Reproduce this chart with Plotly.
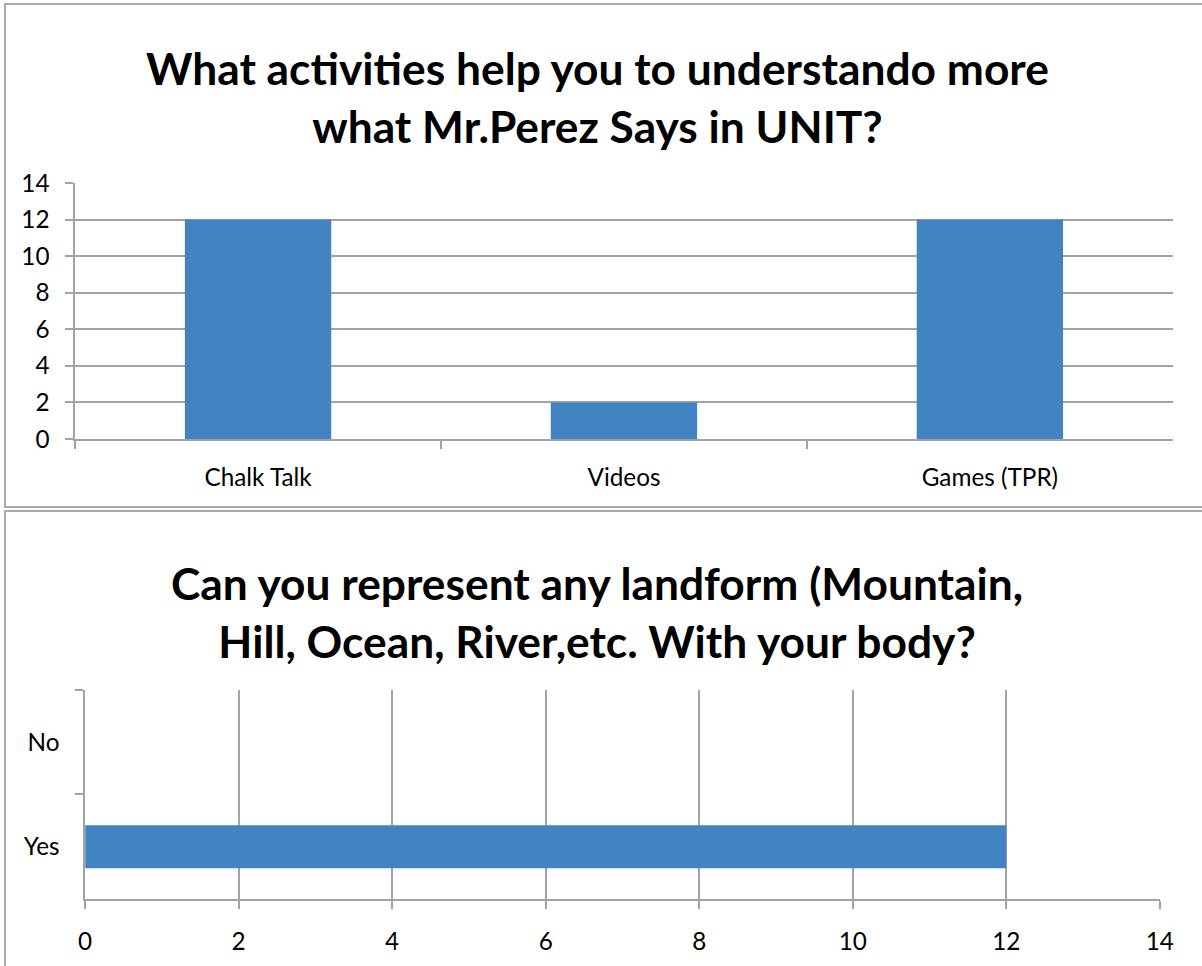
import plotly.graph_objects as go

# ---- data ----
act_categories = ["Chalk Talk", "Videos", "Games (TPR)"]
act_values = [12, 2, 12]
act_title = "What activities help you to understando more<br>what Mr.Perez Says in UNIT?"

land_categories = ["Yes", "No"]
land_values = [12, 0]
land_title = "Can you represent any landform (Mountain,<br>Hill, Ocean, River,etc. With your body?"

W, H = 1202, 966
BAR = "#4283c4"
GRID = "#a3a3a3"
BORDER = "#a8a8a8"
FONT = "Lato"

# map a target pixel position in the final picture to paper fraction
AX, SX = 9.0, 0.981
AY, SY = 15.0, 0.970


def px(x):
    return ((x - AX) / SX) / W


def py(y):
    return 1 - ((y - AY) / SY) / H


fig = go.Figure()
fig.add_trace(go.Bar(x=act_categories, y=act_values, marker=dict(color=BAR, line=dict(width=0)),
                     width=0.4, xaxis="x", yaxis="y", hoverinfo="x+y"))
fig.add_trace(go.Bar(y=land_categories, x=land_values, orientation="h",
                     marker=dict(color=BAR, line=dict(width=0)),
                     width=0.41, xaxis="x2", yaxis="y2", hoverinfo="x+y"))

tickfont = dict(family=FONT, size=24.3, color="#000")
axis_common = dict(ticks="outside", ticklen=8, tickcolor=GRID, tickwidth=1.5,
                   showline=True, linecolor=GRID, linewidth=1.5, fixedrange=True,
                   tickfont=tickfont)

fig.update_layout(
    width=W, height=H,
    margin=dict(l=0, r=0, t=0, b=0),
    paper_bgcolor="white", plot_bgcolor="white",
    showlegend=False,
    font=dict(family=FONT, color="#000"),
    xaxis=dict(domain=[px(77), px(1173)], anchor="y", type="category",
               tickson="boundaries", showgrid=False, ticklabelstandoff=16, **axis_common),
    yaxis=dict(domain=[py(439), py(183)], anchor="x", range=[0, 14], dtick=2,
               showgrid=True, gridcolor=GRID, gridwidth=1.5, zeroline=False,
               ticklabelstandoff=11, **axis_common),
    xaxis2=dict(domain=[px(87), px(1160)], anchor="y2", range=[0, 14], dtick=2,
                showgrid=True, gridcolor=GRID, gridwidth=1.5, zeroline=False,
                ticklabelstandoff=12, **axis_common),
    yaxis2=dict(domain=[py(899), py(690)], anchor="x2", type="category",
                tickson="boundaries", showgrid=False, ticklabelstandoff=19, **axis_common),
    shapes=[
        dict(type="rect", xref="paper", yref="paper", x0=px(7), x1=px(1215), y0=py(507), y1=py(4),
             line=dict(color=BORDER, width=2), fillcolor="rgba(0,0,0,0)", layer="below"),
        dict(type="rect", xref="paper", yref="paper", x0=px(7), x1=px(1215), y0=py(985), y1=py(511),
             line=dict(color=BORDER, width=2), fillcolor="rgba(0,0,0,0)", layer="below"),
    ],
    annotations=[
        dict(text="<b>" + act_title + "</b>", xref="paper", yref="paper", x=px(599), y=py(97),
             xanchor="center", yanchor="middle", showarrow=False,
             font=dict(family=FONT, size=44.3, color="#000")),
        dict(text="<b>" + land_title + "</b>", xref="paper", yref="paper", x=px(598), y=py(612),
             xanchor="center", yanchor="middle", showarrow=False,
             font=dict(family=FONT, size=44.3, color="#000")),
    ],
)

fig.write_html("out.html")
